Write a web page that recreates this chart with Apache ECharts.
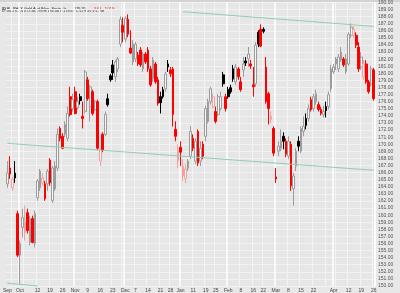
<!DOCTYPE html>
<html><head><meta charset="utf-8">
<script src="https://cdn.jsdelivr.net/npm/echarts@6/dist/echarts.min.js"></script>
<style>html,body{margin:0;padding:0;background:#e8e8e8;}#c{width:400px;height:293px;}</style>
</head><body><div id="c"></div>
<script>
// Trading days (categories)
const tradingDays = {
 '2009-09': [24,25,28,29,30],
 '2009-10': [1,2,5,6,7,8,9,12,13,14,15,16,19,20,21,22,23,26,27,28,29,30],
 '2009-11': [2,3,4,5,6,9,10,11,12,13,16,17,18,19,20,23,24,25,27,30],
 '2009-12': [1,2,3,4,7,8,9,10,11,14,15,16,17,18,21,22,23,24,28,29,30,31],
 '2010-01': [4,5,6,7,8,11,12,13,14,15,19,20,21,22,25,26,27,28,29],
 '2010-02': [1,2,3,4,5,8,9,10,11,12,16,17,18,19,22,23,24,25,26],
 '2010-03': [1,2,3,4,5,8,9,10,11,12,15,16,17,18,19,22,23,24,25,26,29,30,31],
 '2010-04': [1,5,6,7,8,9,12,13,14,15,16,19,20,21,22,23,26]
};
const monthNames = ['Jan','Feb','Mar','Apr','May','Jun','Jul','Aug','Sep','Oct','Nov','Dec'];
// [open, close, low, high]
const ohlc = [
[164.41,165.94,163.85,167.62],[166.64,165.80,165.10,168.32],[163.85,165.10,163.43,165.38],[165.94,165.24,164.55,167.62],
[160.21,154.34,154.06,160.63],[154.34,156.01,150.10,156.43],[158.25,159.65,156.85,160.91],[157.55,158.95,156.43,161.33],
[160.35,157.83,157.41,160.91],[156.15,159.51,155.73,159.93],[159.51,156.15,156.01,159.93],[156.01,160.21,155.45,160.63],
[162.45,164.83,162.03,165.10],[163.85,166.22,163.43,166.50],[164.55,165.24,164.13,165.94],[164.41,162.31,162.03,164.83],
[164.41,166.22,163.43,166.50],[167.76,164.55,164.13,168.04],[162.03,166.64,161.75,166.92],[163.71,166.92,163.43,167.62],
[166.64,171.40,166.22,172.24],[172.24,170.84,170.42,172.52],[171.12,169.44,169.30,171.54],[171.40,172.80,170.98,173.22],
[170.84,174.34,170.42,175.31],[176.71,174.20,173.92,178.11],[175.03,176.29,174.62,177.13],[177.41,174.34,174.20,178.11],
[175.17,176.01,174.90,176.71],[176.71,176.15,175.59,177.13],[173.92,173.64,172.24,176.01],[174.62,180.21,174.34,180.49],
[179.09,176.43,176.15,179.51],[175.31,178.11,173.22,178.39],[177.41,174.34,174.06,177.69],[174.90,176.01,174.62,176.29],
[176.01,169.44,169.16,176.29],[167.62,169.30,166.92,169.44],[171.40,169.16,168.88,171.68],[171.40,174.20,171.12,174.62],
[176.43,175.59,175.31,177.13],[179.65,179.09,178.81,179.93],[181.19,180.07,179.09,181.89],[179.51,181.61,178.81,181.89],
[180.63,182.03,180.21,182.31],[184.13,187.62,183.71,188.04],[186.78,185.80,184.41,187.90],[184.83,187.76,184.41,188.04],
[187.62,185.52,185.10,188.32],[183.57,182.87,182.73,186.08],[181.61,184.13,181.19,184.69],[182.03,184.13,181.61,184.41],
[182.59,181.33,181.05,183.01],[183.29,181.19,180.91,183.71],[180.63,182.73,180.21,183.01],[182.73,181.61,181.33,183.01],
[183.29,180.63,180.21,183.71],[180.63,178.39,178.11,181.05],[179.23,181.89,178.81,182.31],[181.33,178.81,178.53,181.61],
[179.09,175.73,175.45,179.51],[176.71,175.87,174.34,177.41],[177.69,176.71,176.43,178.11],[177.83,179.93,177.41,180.21],
[181.33,180.91,180.21,181.89],[180.49,179.93,179.51,180.91],[180.63,174.20,172.52,180.91],[172.10,171.12,170.42,173.22],
[167.62,169.02,166.64,170.00],[169.58,168.88,166.92,170.42],[165.52,166.92,164.83,167.90],[165.10,166.50,164.55,167.20],
[166.64,167.62,166.22,167.90],[168.32,171.82,167.90,172.52],[170.84,169.44,169.02,171.40],[167.62,170.42,167.20,170.84],
[171.82,167.34,166.92,172.10],[167.62,169.44,166.92,170.42],[170.00,168.32,167.90,170.42],[171.12,175.03,170.42,175.45],
[173.22,176.01,172.94,176.43],[176.01,177.83,175.59,178.11],[175.31,176.71,175.03,177.13],[174.62,173.22,172.94,175.31],
[174.20,176.71,173.92,177.13],[175.03,176.71,174.76,177.41],[179.79,178.53,178.11,180.21],[176.71,175.03,174.62,177.13],
[177.69,176.71,176.43,178.11],[177.97,177.41,177.13,178.39],[180.63,179.23,178.81,181.19],[178.81,180.91,178.39,181.33],
[180.63,179.51,179.09,180.91],[178.81,177.69,177.41,179.51],[180.49,181.33,179.51,182.31],[181.75,181.47,181.05,182.31],
[182.03,182.73,180.91,183.71],[181.33,181.05,180.63,181.89],[178.39,178.11,176.71,180.91],[178.53,183.99,178.11,184.41],
[185.80,184.13,183.71,186.08],[186.22,183.85,183.71,186.92],[186.22,185.94,185.66,186.50],[180.91,176.01,175.73,182.31],
[177.13,175.03,172.80,177.41],[173.50,173.92,172.94,174.62],[172.24,168.74,168.32,172.52],[165.38,165.10,164.55,166.64],
[169.02,169.72,168.32,170.42],[169.44,170.42,169.02,172.10],[171.12,170.42,169.30,171.68],[170.42,168.60,168.18,170.84],
[168.32,170.42,167.90,171.12],[170.00,164.13,163.43,170.42],[163.71,165.52,161.33,165.94],[166.92,169.02,166.22,169.44],
[170.42,169.72,169.02,171.12],[169.02,172.24,168.74,172.52],[171.82,172.52,171.12,173.92],[173.64,172.66,172.10,174.34],
[173.64,175.03,173.22,175.59],[176.29,174.90,174.62,176.71],[175.03,176.71,174.62,177.13],[176.01,177.13,175.59,177.69],
[175.59,174.90,174.62,176.01],[174.90,174.34,174.06,175.31],[174.20,174.62,173.78,175.45],[175.31,174.76,173.78,176.01],
[175.31,176.99,174.90,177.41],[177.83,180.63,177.41,181.19],[180.21,180.91,179.93,181.33],[181.33,182.03,180.49,182.31],
[180.63,182.31,180.21,182.73],[181.89,183.01,181.61,183.71],[182.03,181.19,180.91,182.31],[180.21,182.03,179.93,182.73],
[181.33,185.52,181.05,185.80],[185.38,186.50,184.97,187.06],[185.38,186.22,184.97,186.64],[185.38,183.99,183.57,185.80],
[183.71,180.63,180.21,184.41],[180.91,182.31,180.49,183.01],[179.51,181.33,179.09,181.89],[181.33,178.81,178.53,181.89],
[178.81,177.41,177.13,179.09],[178.53,180.63,178.11,181.05],[180.49,176.43,176.15,180.77]
];
// Trend lines: [startIndex, startPrice, endIndex, endPrice]
const trendLines = [
 [70, 188.70, 146, 186.63],
 [0, 170.13, 146, 166.33],
 [0, 150.40, 12, 150.00]
];
const yMin = 150, yMax = 190, yStep = 1;
const titleName = '$XAU PHLX Gold And Silver Sector Ix.';
const titleLast = '179.35';
const titleChange = '-3.63  -2.01%';
const subTitle = 'D: 04/27/2010 O:182.98 H:183.40 L:178.69 C:179.35 V:1.2M';

const dates = [];
Object.keys(tradingDays).forEach(m => tradingDays[m].forEach(d => dates.push(m + '-' + String(d).padStart(2,'0'))));
const mon = i => +dates[i].slice(5,7);
const dow = i => new Date(dates[i] + 'T00:00:00Z').getUTCDay();
const isMonthStart = i => i === 0 || mon(i) !== mon(i-1);
const isWeekStart = i => i > 0 && dow(i) <= dow(i-1);
const nearMonth = i => [i-2, i-1, i, i+1, i+2, i+3].some(k => k >= 0 && k < dates.length && isMonthStart(k));
const showWeekLabel = i => isWeekStart(i) && !nearMonth(i);

const candles = ohlc.map((v, i) => {
  const o = v[0], c = v[1];
  const prevC = i ? ohlc[i-1][1] : o;
  const up = c >= o, gain = c >= prevC;
  let fill, stroke;
  if (up) { fill = '#f6f6f6'; stroke = gain ? '#9c9c9c' : '#f4a0a0'; }
  else { fill = stroke = gain ? '#000000' : '#ff0000'; }
  return { value: v, itemStyle: { color: fill, color0: fill, borderColor: stroke, borderColor0: stroke, borderWidth: 1 } };
});

const chart = echarts.init(document.getElementById('c'), null, { renderer: 'canvas' });
chart.setOption({
  animation: false,
  backgroundColor: '#e8e8e8',
  grid: { left: 0, right: 25, top: 0, bottom: 7, show: true, backgroundColor: '#e6e6e6', borderWidth: 0 },
  xAxis: [{
    type: 'category', data: dates, boundaryGap: true,
    axisLine: { show: false }, axisTick: { show: false },
    axisLabel: { interval: 0, fontSize: 5, color: '#444', margin: 2, fontFamily: 'Liberation Sans',
      formatter: (v, i) => isMonthStart(i) ? monthNames[mon(i)-1] : (showWeekLabel(i) ? String(+v.slice(8)) : '') },
    splitLine: { show: true, interval: (i) => isWeekStart(i) && !isMonthStart(i), lineStyle: { color: '#f3f3f3', width: 1 } }
  }, {
    type: 'category', data: dates, boundaryGap: true, position: 'bottom',
    axisLine: { show: false }, axisTick: { show: false }, axisLabel: { show: false },
    splitLine: { show: true, interval: (i) => isMonthStart(i) && i > 0, lineStyle: { color: '#ffffff', width: 1.5 } }
  }],
  yAxis: {
    type: 'value', position: 'right', min: yMin, max: yMax, interval: yStep, scale: true,
    axisLine: { show: false }, axisTick: { show: false },
    axisLabel: { fontSize: 5, color: '#555', margin: 3, fontFamily: 'Liberation Sans', formatter: v => v.toFixed(2) },
    splitLine: { show: true, lineStyle: { color: '#f2f2f2', width: 1 } }
  },
  series: [{
    type: 'candlestick', xAxisIndex: 0, data: candles, barWidth: 2.2,
    markLine: {
      silent: true, symbol: ['none','none'], label: { show: false },
      lineStyle: { color: '#93cdb4', width: 1, type: 'solid' },
      data: trendLines.map(t => [{ coord: [dates[t[0]], t[1]] }, { coord: [dates[t[2]], t[3]] }])
    }
  }],
  graphic: [
    { type: 'rect', left: 0, top: 0, shape: { width: 400, height: 2 }, style: { fill: '#d3d3d3' } },
    { type: 'text', left: 2, top: 2.5, style: {
        text: '{n|' + titleName + '}  {n|' + titleLast + '}  {r|' + titleChange + '}',
        rich: { n: { fontSize: 3.8, fill: '#222', fontFamily: 'Liberation Sans' }, r: { fontSize: 3.8, fill: '#ff0000', fontFamily: 'Liberation Sans' } } } },
    { type: 'text', left: 2, top: 9, style: { text: subTitle, fontSize: 3.8, fill: '#333', fontFamily: 'Liberation Sans' } }
  ]
});
</script></body></html>
